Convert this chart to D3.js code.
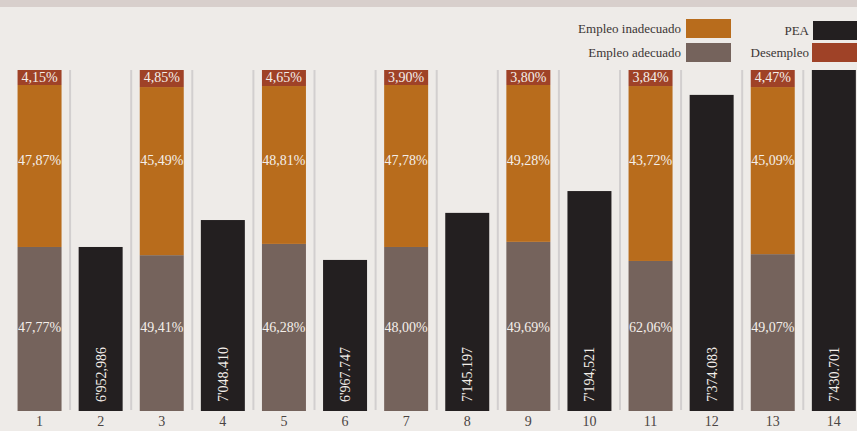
<!DOCTYPE html>
<html>
<head>
<meta charset="utf-8">
<script src="https://cdn.jsdelivr.net/npm/d3@7"></script>
<style>
  body { margin: 0; background: #eeebe8; }
  svg { display: block; font-family: 'Liberation Serif', 'Times New Roman', serif; }
</style>
</head>
<body>
<div id="chart"></div>
<script>
// categories on the x axis
const categories = ['1', '2', '3', '4', '5', '6', '7', '8', '9', '10', '11', '12', '13', '14'];

// stacked bars (odd columns), heights as drawn (% of column)
const stackCats = ['1', '3', '5', '7', '9', '11', '13'];
const adecuado = [48.1, 45.7, 49.0, 48.1, 49.6, 44.0, 46.0];
const inadecuado = [47.5, 49.3, 46.3, 47.5, 46.0, 51.3, 49.0];
const desempleo = [4.4, 5.0, 4.7, 4.4, 4.4, 4.7, 5.0];
const adecuadoLabels = ['47,77%', '49,41%', '46,28%', '48,00%', '49,69%', '62,06%', '49,07%'];
const inadecuadoLabels = ['47,87%', '45,49%', '48,81%', '47,78%', '49,28%', '43,72%', '45,09%'];
const desempleoLabels = ['4,15%', '4,85%', '4,65%', '3,90%', '3,80%', '3,84%', '4,47%'];

// PEA bars (even columns), heights as drawn (% of column)
const peaCats = ['2', '4', '6', '8', '10', '12', '14'];
const pea = [48.1, 56.0, 44.3, 58.1, 64.5, 92.7, 100];
const peaLabels = ["6'952,986", "7'048.410", "6'967.747", "7'145.197", "7'194,521", "7'374.083", "7'430.701"];

const width = 857, height = 431;
const colors = {
    adecuado: '#75635c',
    inadecuado: '#b86c1c',
    desempleo: '#9f4227',
    pea: '#231f20'
};

const svg = d3.select('#chart').append('svg')
    .attr('width', width)
    .attr('height', height);

svg.append('rect')
    .attr('width', width).attr('height', height)
    .attr('fill', '#eeebe8');
svg.append('rect')
    .attr('width', width).attr('height', 7)
    .attr('fill', '#d8cfcc');

const x = d3.scaleBand()
    .domain(categories)
    .range([9, 9 + 61.1 * categories.length])
    .paddingInner(0.28)
    .paddingOuter(0.14);

const y = d3.scaleLinear()
    .domain([0, 100])
    .range([411, 70]);

// separators between columns
svg.append('g').selectAll('line')
    .data(categories.slice(1))
    .join('line')
    .attr('x1', d => x(d) - x.step() * 0.14)
    .attr('x2', d => x(d) - x.step() * 0.14)
    .attr('y1', y(100))
    .attr('y2', y(0) - 1)
    .attr('stroke', '#d2cfcf')
    .attr('stroke-width', 2);

// stacked bars
const rows = stackCats.map((c, i) => ({
    cat: c, adecuado: adecuado[i], inadecuado: inadecuado[i], desempleo: desempleo[i]
}));
const keys = ['adecuado', 'inadecuado', 'desempleo'];
const series = d3.stack().keys(keys)(rows);

svg.append('g').selectAll('g')
    .data(series)
    .join('g')
    .attr('fill', s => colors[s.key])
  .selectAll('rect')
    .data(s => s)
    .join('rect')
    .attr('x', d => x(d.data.cat))
    .attr('y', d => y(d[1]))
    .attr('width', x.bandwidth())
    .attr('height', d => y(d[0]) - y(d[1]));

const labelColor = '#f4efea';
const stackLabels = svg.append('g')
    .attr('fill', labelColor)
    .attr('font-size', 14)
    .attr('text-anchor', 'middle');

stackLabels.selectAll('.lab-des')
    .data(stackCats)
    .join('text')
    .attr('class', 'lab-des')
    .attr('x', d => x(d) + x.bandwidth() / 2)
    .attr('y', y(100) + 12)
    .text((d, i) => desempleoLabels[i]);

stackLabels.selectAll('.lab-inad')
    .data(stackCats)
    .join('text')
    .attr('class', 'lab-inad')
    .attr('x', d => x(d) + x.bandwidth() / 2)
    .attr('y', 165)
    .text((d, i) => inadecuadoLabels[i]);

stackLabels.selectAll('.lab-ad')
    .data(stackCats)
    .join('text')
    .attr('class', 'lab-ad')
    .attr('x', d => x(d) + x.bandwidth() / 2)
    .attr('y', 332)
    .text((d, i) => adecuadoLabels[i]);

// PEA bars
svg.append('g').selectAll('rect')
    .data(peaCats)
    .join('rect')
    .attr('x', d => x(d))
    .attr('y', (d, i) => y(pea[i]))
    .attr('width', x.bandwidth())
    .attr('height', (d, i) => y(0) - y(pea[i]))
    .attr('fill', colors.pea);

svg.append('g').selectAll('text')
    .data(peaCats)
    .join('text')
    .attr('transform', d => 'translate(' + (x(d) + x.bandwidth() / 2 + 5) + ',' + (y(0) - 9) + ') rotate(-90)')
    .attr('fill', labelColor)
    .attr('font-size', 14)
    .text((d, i) => peaLabels[i]);

// x axis labels
const xAxis = svg.append('g')
    .attr('transform', 'translate(0,' + y(0) + ')')
    .call(d3.axisBottom(x).tickSize(0).tickPadding(5));
xAxis.select('.domain').remove();
xAxis.selectAll('text')
    .attr('fill', '#4a4443')
    .attr('font-size', 14)
    .attr('font-family', "'Liberation Serif', serif");

// legend
const legendItems = [
    { name: 'Empleo inadecuado', key: 'inadecuado', tx: 681, sx: 686, sy: 19, sw: 45 },
    { name: 'Empleo adecuado', key: 'adecuado', tx: 681, sx: 686, sy: 43, sw: 45 },
    { name: 'PEA', key: 'pea', tx: 809, sx: 813, sy: 21, sw: 44 },
    { name: 'Desempleo', key: 'desempleo', tx: 809, sx: 812, sy: 43, sw: 45 }
];
const legend = svg.append('g');
legend.selectAll('rect')
    .data(legendItems)
    .join('rect')
    .attr('x', d => d.sx)
    .attr('y', d => d.sy)
    .attr('width', d => d.sw)
    .attr('height', 19)
    .attr('fill', d => colors[d.key]);
legend.selectAll('text')
    .data(legendItems)
    .join('text')
    .attr('x', d => d.tx)
    .attr('y', d => d.sy + 14)
    .attr('text-anchor', 'end')
    .attr('font-size', 13)
    .attr('fill', '#3b3534')
    .text(d => d.name);
</script>
</body>
</html>
